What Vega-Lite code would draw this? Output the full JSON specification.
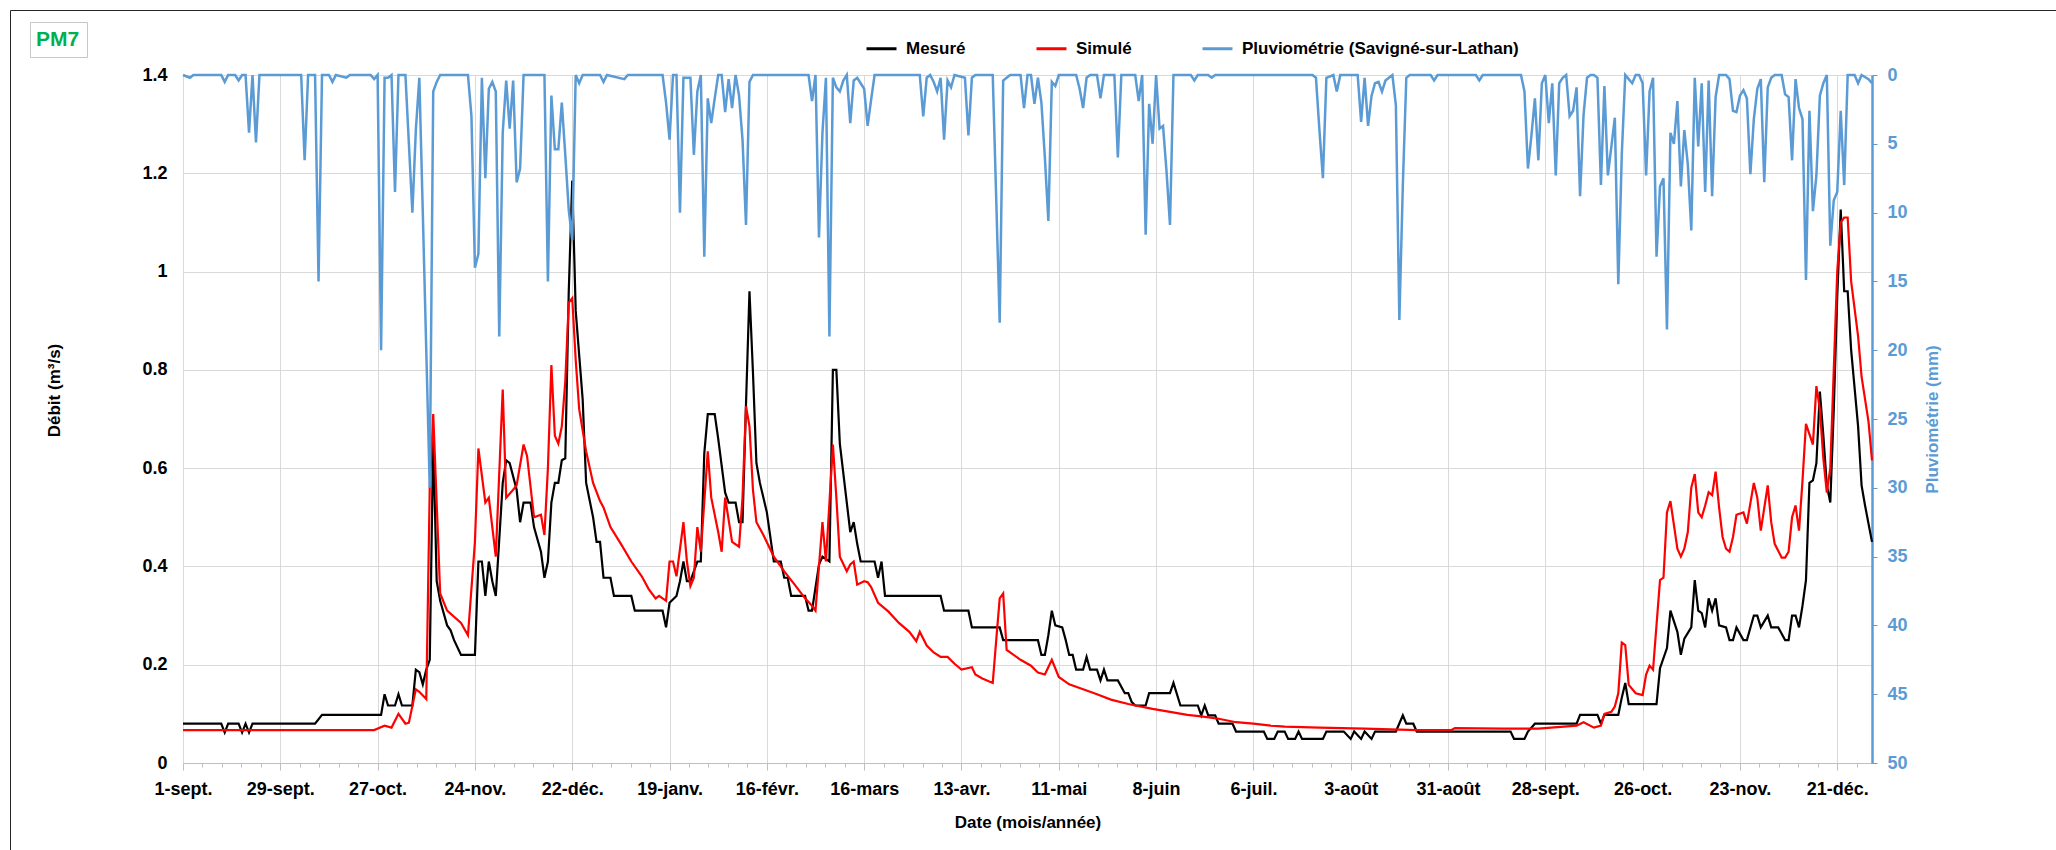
{
"$schema": "https://vega.github.io/schema/vega-lite/v6.json",
"width": 1689, "height": 688,
"autosize": {"type": "none"},
"padding": {"left": 183, "top": 75, "right": 184, "bottom": 87},
"background": "white",
"config": {
  "view": {"stroke": null},
  "font": "Liberation Sans",
  "axis": {"labelFont": "Liberation Sans", "labelFontWeight": "bold", "labelFontSize": 18, "labelColor": "#000000",
           "titleFont": "Liberation Sans", "titleFontWeight": "bold", "titleFontSize": 17, "titleColor": "#000000",
           "gridColor": "#D9D9D9", "gridWidth": 1}
},
"datasets": {
"mesure": [{"d":"2014-09-01","q":0.08},{"d":"2014-09-12","q":0.08},{"d":"2014-09-13","q":0.062},{"d":"2014-09-14","q":0.08},{"d":"2014-09-17","q":0.08},{"d":"2014-09-18","q":0.062},{"d":"2014-09-19","q":0.08},{"d":"2014-09-20","q":0.062},{"d":"2014-09-21","q":0.08},{"d":"2014-10-09","q":0.08},{"d":"2014-10-11","q":0.098},{"d":"2014-10-28","q":0.098},{"d":"2014-10-29","q":0.14},{"d":"2014-10-30","q":0.117},{"d":"2014-11-01","q":0.117},{"d":"2014-11-02","q":0.14},{"d":"2014-11-03","q":0.117},{"d":"2014-11-06","q":0.117},{"d":"2014-11-07","q":0.19},{"d":"2014-11-08","q":0.185},{"d":"2014-11-09","q":0.16},{"d":"2014-11-10","q":0.19},{"d":"2014-11-11","q":0.21},{"d":"2014-11-12","q":0.66},{"d":"2014-11-13","q":0.37},{"d":"2014-11-14","q":0.33},{"d":"2014-11-16","q":0.28},{"d":"2014-11-17","q":0.27},{"d":"2014-11-18","q":0.25},{"d":"2014-11-20","q":0.22},{"d":"2014-11-24","q":0.22},{"d":"2014-11-25","q":0.41},{"d":"2014-11-26","q":0.41},{"d":"2014-11-27","q":0.34},{"d":"2014-11-28","q":0.41},{"d":"2014-11-29","q":0.37},{"d":"2014-11-30","q":0.34},{"d":"2014-12-02","q":0.57},{"d":"2014-12-03","q":0.616},{"d":"2014-12-04","q":0.61},{"d":"2014-12-06","q":0.556},{"d":"2014-12-07","q":0.49},{"d":"2014-12-08","q":0.53},{"d":"2014-12-10","q":0.53},{"d":"2014-12-11","q":0.48},{"d":"2014-12-13","q":0.43},{"d":"2014-12-14","q":0.377},{"d":"2014-12-15","q":0.41},{"d":"2014-12-16","q":0.53},{"d":"2014-12-17","q":0.57},{"d":"2014-12-18","q":0.57},{"d":"2014-12-19","q":0.616},{"d":"2014-12-20","q":0.62},{"d":"2014-12-21","q":0.96},{"d":"2014-12-22","q":1.185},{"d":"2014-12-23","q":0.92},{"d":"2014-12-25","q":0.74},{"d":"2014-12-26","q":0.57},{"d":"2014-12-28","q":0.5},{"d":"2014-12-29","q":0.45},{"d":"2014-12-30","q":0.45},{"d":"2014-12-31","q":0.377},{"d":"2015-01-02","q":0.377},{"d":"2015-01-03","q":0.34},{"d":"2015-01-08","q":0.34},{"d":"2015-01-09","q":0.31},{"d":"2015-01-17","q":0.31},{"d":"2015-01-18","q":0.276},{"d":"2015-01-19","q":0.326},{"d":"2015-01-21","q":0.34},{"d":"2015-01-22","q":0.37},{"d":"2015-01-23","q":0.41},{"d":"2015-01-24","q":0.37},{"d":"2015-01-25","q":0.37},{"d":"2015-01-27","q":0.41},{"d":"2015-01-28","q":0.41},{"d":"2015-01-29","q":0.63},{"d":"2015-01-30","q":0.71},{"d":"2015-02-01","q":0.71},{"d":"2015-02-02","q":0.66},{"d":"2015-02-04","q":0.55},{"d":"2015-02-05","q":0.53},{"d":"2015-02-07","q":0.53},{"d":"2015-02-08","q":0.49},{"d":"2015-02-09","q":0.49},{"d":"2015-02-10","q":0.73},{"d":"2015-02-11","q":0.96},{"d":"2015-02-12","q":0.795},{"d":"2015-02-13","q":0.61},{"d":"2015-02-14","q":0.57},{"d":"2015-02-16","q":0.51},{"d":"2015-02-18","q":0.41},{"d":"2015-02-20","q":0.41},{"d":"2015-02-21","q":0.377},{"d":"2015-02-22","q":0.377},{"d":"2015-02-23","q":0.34},{"d":"2015-02-27","q":0.34},{"d":"2015-02-28","q":0.31},{"d":"2015-03-01","q":0.31},{"d":"2015-03-03","q":0.404},{"d":"2015-03-04","q":0.42},{"d":"2015-03-06","q":0.41},{"d":"2015-03-07","q":0.8},{"d":"2015-03-08","q":0.8},{"d":"2015-03-09","q":0.65},{"d":"2015-03-11","q":0.53},{"d":"2015-03-12","q":0.47},{"d":"2015-03-13","q":0.49},{"d":"2015-03-14","q":0.446},{"d":"2015-03-15","q":0.41},{"d":"2015-03-19","q":0.41},{"d":"2015-03-20","q":0.377},{"d":"2015-03-21","q":0.41},{"d":"2015-03-22","q":0.34},{"d":"2015-04-07","q":0.34},{"d":"2015-04-08","q":0.31},{"d":"2015-04-15","q":0.31},{"d":"2015-04-16","q":0.276},{"d":"2015-04-24","q":0.276},{"d":"2015-04-25","q":0.25},{"d":"2015-05-05","q":0.25},{"d":"2015-05-06","q":0.22},{"d":"2015-05-07","q":0.22},{"d":"2015-05-08","q":0.26},{"d":"2015-05-09","q":0.31},{"d":"2015-05-10","q":0.28},{"d":"2015-05-12","q":0.276},{"d":"2015-05-13","q":0.25},{"d":"2015-05-14","q":0.22},{"d":"2015-05-15","q":0.22},{"d":"2015-05-16","q":0.19},{"d":"2015-05-18","q":0.19},{"d":"2015-05-19","q":0.216},{"d":"2015-05-20","q":0.19},{"d":"2015-05-22","q":0.19},{"d":"2015-05-23","q":0.168},{"d":"2015-05-24","q":0.19},{"d":"2015-05-25","q":0.168},{"d":"2015-05-28","q":0.168},{"d":"2015-05-30","q":0.142},{"d":"2015-05-31","q":0.142},{"d":"2015-06-01","q":0.124},{"d":"2015-06-02","q":0.117},{"d":"2015-06-05","q":0.117},{"d":"2015-06-06","q":0.142},{"d":"2015-06-12","q":0.142},{"d":"2015-06-13","q":0.163},{"d":"2015-06-15","q":0.117},{"d":"2015-06-20","q":0.117},{"d":"2015-06-21","q":0.097},{"d":"2015-06-22","q":0.117},{"d":"2015-06-23","q":0.097},{"d":"2015-06-25","q":0.097},{"d":"2015-06-26","q":0.08},{"d":"2015-06-30","q":0.08},{"d":"2015-07-01","q":0.064},{"d":"2015-07-09","q":0.064},{"d":"2015-07-10","q":0.049},{"d":"2015-07-12","q":0.049},{"d":"2015-07-13","q":0.064},{"d":"2015-07-15","q":0.064},{"d":"2015-07-16","q":0.049},{"d":"2015-07-18","q":0.049},{"d":"2015-07-19","q":0.064},{"d":"2015-07-20","q":0.049},{"d":"2015-07-26","q":0.049},{"d":"2015-07-27","q":0.064},{"d":"2015-08-01","q":0.064},{"d":"2015-08-03","q":0.049},{"d":"2015-08-04","q":0.064},{"d":"2015-08-06","q":0.049},{"d":"2015-08-07","q":0.064},{"d":"2015-08-09","q":0.049},{"d":"2015-08-10","q":0.064},{"d":"2015-08-16","q":0.064},{"d":"2015-08-18","q":0.097},{"d":"2015-08-19","q":0.08},{"d":"2015-08-21","q":0.08},{"d":"2015-08-22","q":0.064},{"d":"2015-09-18","q":0.064},{"d":"2015-09-19","q":0.049},{"d":"2015-09-22","q":0.049},{"d":"2015-09-23","q":0.064},{"d":"2015-09-25","q":0.08},{"d":"2015-10-07","q":0.08},{"d":"2015-10-08","q":0.098},{"d":"2015-10-13","q":0.098},{"d":"2015-10-14","q":0.08},{"d":"2015-10-15","q":0.098},{"d":"2015-10-19","q":0.098},{"d":"2015-10-20","q":0.133},{"d":"2015-10-21","q":0.163},{"d":"2015-10-22","q":0.12},{"d":"2015-10-30","q":0.12},{"d":"2015-10-31","q":0.193},{"d":"2015-11-02","q":0.234},{"d":"2015-11-03","q":0.31},{"d":"2015-11-05","q":0.267},{"d":"2015-11-06","q":0.22},{"d":"2015-11-07","q":0.253},{"d":"2015-11-09","q":0.276},{"d":"2015-11-10","q":0.372},{"d":"2015-11-11","q":0.31},{"d":"2015-11-12","q":0.305},{"d":"2015-11-13","q":0.276},{"d":"2015-11-14","q":0.335},{"d":"2015-11-15","q":0.31},{"d":"2015-11-16","q":0.335},{"d":"2015-11-17","q":0.28},{"d":"2015-11-19","q":0.276},{"d":"2015-11-20","q":0.25},{"d":"2015-11-21","q":0.25},{"d":"2015-11-22","q":0.276},{"d":"2015-11-24","q":0.25},{"d":"2015-11-25","q":0.25},{"d":"2015-11-27","q":0.3},{"d":"2015-11-28","q":0.3},{"d":"2015-11-29","q":0.276},{"d":"2015-12-01","q":0.3},{"d":"2015-12-02","q":0.276},{"d":"2015-12-04","q":0.276},{"d":"2015-12-06","q":0.25},{"d":"2015-12-07","q":0.25},{"d":"2015-12-08","q":0.3},{"d":"2015-12-09","q":0.3},{"d":"2015-12-10","q":0.276},{"d":"2015-12-11","q":0.32},{"d":"2015-12-12","q":0.372},{"d":"2015-12-13","q":0.57},{"d":"2015-12-14","q":0.575},{"d":"2015-12-15","q":0.61},{"d":"2015-12-16","q":0.756},{"d":"2015-12-17","q":0.666},{"d":"2015-12-18","q":0.565},{"d":"2015-12-19","q":0.53},{"d":"2015-12-20","q":0.72},{"d":"2015-12-21","q":0.95},{"d":"2015-12-22","q":1.126},{"d":"2015-12-23","q":0.96},{"d":"2015-12-24","q":0.96},{"d":"2015-12-25","q":0.84},{"d":"2015-12-27","q":0.685},{"d":"2015-12-28","q":0.565},{"d":"2015-12-29","q":0.524},{"d":"2015-12-30","q":0.487},{"d":"2015-12-31","q":0.45}],
"simule": [{"d":"2014-09-01","q":0.067},{"d":"2014-10-26","q":0.067},{"d":"2014-10-29","q":0.076},{"d":"2014-10-31","q":0.072},{"d":"2014-11-02","q":0.1},{"d":"2014-11-04","q":0.08},{"d":"2014-11-05","q":0.082},{"d":"2014-11-07","q":0.15},{"d":"2014-11-08","q":0.145},{"d":"2014-11-10","q":0.13},{"d":"2014-11-11","q":0.56},{"d":"2014-11-12","q":0.71},{"d":"2014-11-14","q":0.345},{"d":"2014-11-16","q":0.31},{"d":"2014-11-20","q":0.285},{"d":"2014-11-22","q":0.26},{"d":"2014-11-24","q":0.45},{"d":"2014-11-25","q":0.64},{"d":"2014-11-27","q":0.53},{"d":"2014-11-28","q":0.54},{"d":"2014-11-30","q":0.42},{"d":"2014-12-02","q":0.76},{"d":"2014-12-03","q":0.54},{"d":"2014-12-05","q":0.556},{"d":"2014-12-06","q":0.565},{"d":"2014-12-08","q":0.648},{"d":"2014-12-09","q":0.625},{"d":"2014-12-11","q":0.5},{"d":"2014-12-13","q":0.505},{"d":"2014-12-14","q":0.464},{"d":"2014-12-15","q":0.6},{"d":"2014-12-16","q":0.81},{"d":"2014-12-17","q":0.666},{"d":"2014-12-18","q":0.65},{"d":"2014-12-19","q":0.685},{"d":"2014-12-20","q":0.776},{"d":"2014-12-21","q":0.937},{"d":"2014-12-22","q":0.946},{"d":"2014-12-23","q":0.82},{"d":"2014-12-24","q":0.72},{"d":"2014-12-26","q":0.634},{"d":"2014-12-28","q":0.57},{"d":"2014-12-30","q":0.533},{"d":"2014-12-31","q":0.52},{"d":"2015-01-02","q":0.48},{"d":"2015-01-05","q":0.446},{"d":"2015-01-08","q":0.41},{"d":"2015-01-11","q":0.38},{"d":"2015-01-13","q":0.354},{"d":"2015-01-15","q":0.335},{"d":"2015-01-16","q":0.34},{"d":"2015-01-18","q":0.33},{"d":"2015-01-19","q":0.41},{"d":"2015-01-20","q":0.41},{"d":"2015-01-21","q":0.38},{"d":"2015-01-23","q":0.49},{"d":"2015-01-24","q":0.41},{"d":"2015-01-25","q":0.36},{"d":"2015-01-26","q":0.377},{"d":"2015-01-27","q":0.48},{"d":"2015-01-28","q":0.43},{"d":"2015-01-30","q":0.634},{"d":"2015-01-31","q":0.54},{"d":"2015-02-02","q":0.47},{"d":"2015-02-03","q":0.43},{"d":"2015-02-04","q":0.54},{"d":"2015-02-06","q":0.45},{"d":"2015-02-08","q":0.44},{"d":"2015-02-09","q":0.54},{"d":"2015-02-10","q":0.726},{"d":"2015-02-11","q":0.685},{"d":"2015-02-12","q":0.556},{"d":"2015-02-13","q":0.49},{"d":"2015-02-15","q":0.464},{"d":"2015-02-18","q":0.42},{"d":"2015-02-21","q":0.39},{"d":"2015-02-24","q":0.363},{"d":"2015-02-27","q":0.335},{"d":"2015-03-01","q":0.32},{"d":"2015-03-02","q":0.31},{"d":"2015-03-03","q":0.4},{"d":"2015-03-04","q":0.49},{"d":"2015-03-05","q":0.41},{"d":"2015-03-07","q":0.648},{"d":"2015-03-08","q":0.54},{"d":"2015-03-09","q":0.42},{"d":"2015-03-11","q":0.39},{"d":"2015-03-12","q":0.404},{"d":"2015-03-13","q":0.41},{"d":"2015-03-14","q":0.363},{"d":"2015-03-16","q":0.37},{"d":"2015-03-17","q":0.368},{"d":"2015-03-18","q":0.358},{"d":"2015-03-20","q":0.326},{"d":"2015-03-23","q":0.308},{"d":"2015-03-26","q":0.285},{"d":"2015-03-29","q":0.267},{"d":"2015-03-31","q":0.248},{"d":"2015-04-01","q":0.267},{"d":"2015-04-03","q":0.239},{"d":"2015-04-05","q":0.225},{"d":"2015-04-07","q":0.216},{"d":"2015-04-09","q":0.216},{"d":"2015-04-11","q":0.202},{"d":"2015-04-13","q":0.19},{"d":"2015-04-16","q":0.195},{"d":"2015-04-17","q":0.18},{"d":"2015-04-19","q":0.172},{"d":"2015-04-22","q":0.163},{"d":"2015-04-23","q":0.25},{"d":"2015-04-24","q":0.335},{"d":"2015-04-25","q":0.345},{"d":"2015-04-26","q":0.23},{"d":"2015-04-30","q":0.21},{"d":"2015-05-03","q":0.198},{"d":"2015-05-05","q":0.184},{"d":"2015-05-07","q":0.18},{"d":"2015-05-09","q":0.21},{"d":"2015-05-11","q":0.175},{"d":"2015-05-14","q":0.16},{"d":"2015-05-18","q":0.15},{"d":"2015-05-22","q":0.14},{"d":"2015-05-26","q":0.129},{"d":"2015-05-31","q":0.12},{"d":"2015-06-02","q":0.117},{"d":"2015-06-07","q":0.11},{"d":"2015-06-12","q":0.104},{"d":"2015-06-17","q":0.098},{"d":"2015-06-21","q":0.095},{"d":"2015-06-26","q":0.09},{"d":"2015-07-01","q":0.083},{"d":"2015-07-06","q":0.08},{"d":"2015-07-11","q":0.076},{"d":"2015-07-15","q":0.074},{"d":"2015-07-25","q":0.072},{"d":"2015-08-07","q":0.07},{"d":"2015-08-22","q":0.067},{"d":"2015-09-01","q":0.067},{"d":"2015-09-02","q":0.071},{"d":"2015-09-16","q":0.07},{"d":"2015-09-26","q":0.07},{"d":"2015-10-07","q":0.076},{"d":"2015-10-09","q":0.083},{"d":"2015-10-12","q":0.072},{"d":"2015-10-14","q":0.076},{"d":"2015-10-15","q":0.1},{"d":"2015-10-17","q":0.104},{"d":"2015-10-18","q":0.115},{"d":"2015-10-19","q":0.142},{"d":"2015-10-20","q":0.245},{"d":"2015-10-21","q":0.24},{"d":"2015-10-22","q":0.159},{"d":"2015-10-24","q":0.142},{"d":"2015-10-26","q":0.138},{"d":"2015-10-27","q":0.18},{"d":"2015-10-28","q":0.198},{"d":"2015-10-29","q":0.19},{"d":"2015-10-31","q":0.372},{"d":"2015-11-01","q":0.377},{"d":"2015-11-02","q":0.51},{"d":"2015-11-03","q":0.533},{"d":"2015-11-05","q":0.436},{"d":"2015-11-06","q":0.42},{"d":"2015-11-07","q":0.436},{"d":"2015-11-08","q":0.47},{"d":"2015-11-09","q":0.56},{"d":"2015-11-10","q":0.588},{"d":"2015-11-11","q":0.51},{"d":"2015-11-12","q":0.5},{"d":"2015-11-13","q":0.524},{"d":"2015-11-14","q":0.551},{"d":"2015-11-15","q":0.545},{"d":"2015-11-16","q":0.593},{"d":"2015-11-17","q":0.52},{"d":"2015-11-18","q":0.46},{"d":"2015-11-19","q":0.436},{"d":"2015-11-20","q":0.43},{"d":"2015-11-21","q":0.46},{"d":"2015-11-22","q":0.505},{"d":"2015-11-24","q":0.51},{"d":"2015-11-25","q":0.487},{"d":"2015-11-27","q":0.57},{"d":"2015-11-28","q":0.54},{"d":"2015-11-29","q":0.473},{"d":"2015-12-01","q":0.565},{"d":"2015-12-02","q":0.49},{"d":"2015-12-03","q":0.446},{"d":"2015-12-05","q":0.418},{"d":"2015-12-06","q":0.418},{"d":"2015-12-07","q":0.43},{"d":"2015-12-08","q":0.5},{"d":"2015-12-09","q":0.524},{"d":"2015-12-10","q":0.473},{"d":"2015-12-11","q":0.574},{"d":"2015-12-12","q":0.69},{"d":"2015-12-14","q":0.648},{"d":"2015-12-15","q":0.767},{"d":"2015-12-16","q":0.72},{"d":"2015-12-17","q":0.62},{"d":"2015-12-18","q":0.55},{"d":"2015-12-19","q":0.6},{"d":"2015-12-20","q":0.8},{"d":"2015-12-21","q":1.0},{"d":"2015-12-22","q":1.1},{"d":"2015-12-23","q":1.11},{"d":"2015-12-24","q":1.11},{"d":"2015-12-25","q":0.98},{"d":"2015-12-27","q":0.868},{"d":"2015-12-28","q":0.786},{"d":"2015-12-30","q":0.694},{"d":"2015-12-31","q":0.616}],
"pluie": [{"d":"2014-09-01","p":0},{"d":"2014-09-03","p":0.2},{"d":"2014-09-04","p":0},{"d":"2014-09-12","p":0},{"d":"2014-09-13","p":0.5},{"d":"2014-09-14","p":0},{"d":"2014-09-16","p":0},{"d":"2014-09-17","p":0.4},{"d":"2014-09-18","p":0},{"d":"2014-09-19","p":0},{"d":"2014-09-20","p":4.2},{"d":"2014-09-21","p":0},{"d":"2014-09-22","p":4.9},{"d":"2014-09-23","p":0},{"d":"2014-10-05","p":0},{"d":"2014-10-06","p":6.2},{"d":"2014-10-07","p":0},{"d":"2014-10-09","p":0},{"d":"2014-10-10","p":15},{"d":"2014-10-11","p":0},{"d":"2014-10-13","p":0},{"d":"2014-10-14","p":0.5},{"d":"2014-10-15","p":0},{"d":"2014-10-18","p":0.2},{"d":"2014-10-19","p":0},{"d":"2014-10-25","p":0},{"d":"2014-10-26","p":0.3},{"d":"2014-10-27","p":0},{"d":"2014-10-28","p":20},{"d":"2014-10-29","p":0.2},{"d":"2014-10-30","p":0.2},{"d":"2014-10-31","p":0},{"d":"2014-11-01","p":8.5},{"d":"2014-11-02","p":0},{"d":"2014-11-04","p":0},{"d":"2014-11-06","p":10},{"d":"2014-11-07","p":4},{"d":"2014-11-08","p":0.2},{"d":"2014-11-09","p":10},{"d":"2014-11-10","p":20},{"d":"2014-11-11","p":30},{"d":"2014-11-12","p":1.2},{"d":"2014-11-13","p":0.5},{"d":"2014-11-14","p":0},{"d":"2014-11-22","p":0},{"d":"2014-11-23","p":3},{"d":"2014-11-24","p":14},{"d":"2014-11-25","p":13},{"d":"2014-11-26","p":0.2},{"d":"2014-11-27","p":7.5},{"d":"2014-11-28","p":1},{"d":"2014-11-29","p":0.5},{"d":"2014-11-30","p":1.2},{"d":"2014-12-01","p":19},{"d":"2014-12-02","p":4.2},{"d":"2014-12-03","p":0.4},{"d":"2014-12-04","p":3.9},{"d":"2014-12-05","p":0.4},{"d":"2014-12-06","p":7.8},{"d":"2014-12-07","p":6.8},{"d":"2014-12-08","p":0},{"d":"2014-12-14","p":0},{"d":"2014-12-15","p":15},{"d":"2014-12-16","p":1.5},{"d":"2014-12-17","p":5.4},{"d":"2014-12-18","p":5.4},{"d":"2014-12-19","p":2},{"d":"2014-12-20","p":5.8},{"d":"2014-12-21","p":9.8},{"d":"2014-12-22","p":12},{"d":"2014-12-23","p":0},{"d":"2014-12-24","p":0.6},{"d":"2014-12-25","p":0},{"d":"2014-12-30","p":0},{"d":"2014-12-31","p":0.5},{"d":"2015-01-01","p":0},{"d":"2015-01-06","p":0.3},{"d":"2015-01-07","p":0},{"d":"2015-01-17","p":0},{"d":"2015-01-18","p":2},{"d":"2015-01-19","p":4.7},{"d":"2015-01-20","p":0},{"d":"2015-01-21","p":0},{"d":"2015-01-22","p":10},{"d":"2015-01-23","p":0.2},{"d":"2015-01-25","p":0.2},{"d":"2015-01-26","p":5.8},{"d":"2015-01-27","p":1.2},{"d":"2015-01-28","p":0},{"d":"2015-01-29","p":13.2},{"d":"2015-01-30","p":1.7},{"d":"2015-01-31","p":3.5},{"d":"2015-02-01","p":1.7},{"d":"2015-02-02","p":0},{"d":"2015-02-03","p":0},{"d":"2015-02-04","p":2.7},{"d":"2015-02-05","p":0.3},{"d":"2015-02-06","p":2.4},{"d":"2015-02-07","p":0},{"d":"2015-02-08","p":1.5},{"d":"2015-02-09","p":4.7},{"d":"2015-02-10","p":10.9},{"d":"2015-02-11","p":0.5},{"d":"2015-02-12","p":0},{"d":"2015-02-28","p":0},{"d":"2015-03-01","p":1.9},{"d":"2015-03-02","p":0},{"d":"2015-03-03","p":11.8},{"d":"2015-03-04","p":4.2},{"d":"2015-03-05","p":0.2},{"d":"2015-03-06","p":19},{"d":"2015-03-07","p":0.2},{"d":"2015-03-08","p":0.9},{"d":"2015-03-09","p":1.2},{"d":"2015-03-10","p":0.4},{"d":"2015-03-11","p":0},{"d":"2015-03-12","p":3.5},{"d":"2015-03-13","p":0.4},{"d":"2015-03-14","p":0.2},{"d":"2015-03-16","p":1},{"d":"2015-03-17","p":3.7},{"d":"2015-03-18","p":1.8},{"d":"2015-03-19","p":0},{"d":"2015-04-01","p":0},{"d":"2015-04-02","p":3},{"d":"2015-04-03","p":0.2},{"d":"2015-04-04","p":0},{"d":"2015-04-05","p":0.5},{"d":"2015-04-06","p":1.2},{"d":"2015-04-07","p":0.2},{"d":"2015-04-08","p":4.7},{"d":"2015-04-09","p":0.4},{"d":"2015-04-10","p":0.9},{"d":"2015-04-11","p":0},{"d":"2015-04-14","p":0.2},{"d":"2015-04-15","p":4.4},{"d":"2015-04-16","p":0.2},{"d":"2015-04-17","p":0},{"d":"2015-04-22","p":0},{"d":"2015-04-23","p":9},{"d":"2015-04-24","p":18},{"d":"2015-04-25","p":0.4},{"d":"2015-04-26","p":0.2},{"d":"2015-04-27","p":0},{"d":"2015-04-30","p":0},{"d":"2015-05-01","p":2.4},{"d":"2015-05-02","p":0},{"d":"2015-05-03","p":0},{"d":"2015-05-04","p":2.1},{"d":"2015-05-05","p":0.2},{"d":"2015-05-06","p":2},{"d":"2015-05-07","p":6},{"d":"2015-05-08","p":10.6},{"d":"2015-05-09","p":0.5},{"d":"2015-05-10","p":0.8},{"d":"2015-05-11","p":0},{"d":"2015-05-16","p":0},{"d":"2015-05-17","p":1},{"d":"2015-05-18","p":2.4},{"d":"2015-05-19","p":0.2},{"d":"2015-05-20","p":0},{"d":"2015-05-22","p":0},{"d":"2015-05-23","p":1.7},{"d":"2015-05-24","p":0},{"d":"2015-05-27","p":0},{"d":"2015-05-28","p":6},{"d":"2015-05-29","p":0},{"d":"2015-06-02","p":0},{"d":"2015-06-03","p":1.9},{"d":"2015-06-04","p":0},{"d":"2015-06-05","p":11.6},{"d":"2015-06-06","p":2.1},{"d":"2015-06-07","p":5},{"d":"2015-06-08","p":0},{"d":"2015-06-09","p":3.9},{"d":"2015-06-10","p":3.7},{"d":"2015-06-11","p":7},{"d":"2015-06-12","p":10.9},{"d":"2015-06-13","p":0},{"d":"2015-06-18","p":0},{"d":"2015-06-19","p":0.4},{"d":"2015-06-20","p":0},{"d":"2015-06-23","p":0},{"d":"2015-06-24","p":0.2},{"d":"2015-06-25","p":0},{"d":"2015-07-23","p":0},{"d":"2015-07-24","p":0.2},{"d":"2015-07-25","p":4},{"d":"2015-07-26","p":7.5},{"d":"2015-07-27","p":0.2},{"d":"2015-07-29","p":0},{"d":"2015-07-30","p":1.2},{"d":"2015-07-31","p":0},{"d":"2015-08-05","p":0},{"d":"2015-08-06","p":3.4},{"d":"2015-08-07","p":0.2},{"d":"2015-08-08","p":3.7},{"d":"2015-08-09","p":1.5},{"d":"2015-08-10","p":0.6},{"d":"2015-08-11","p":0.5},{"d":"2015-08-12","p":1.2},{"d":"2015-08-13","p":0.4},{"d":"2015-08-14","p":0.2},{"d":"2015-08-15","p":0},{"d":"2015-08-16","p":2.2},{"d":"2015-08-17","p":17.8},{"d":"2015-08-18","p":8},{"d":"2015-08-19","p":0.2},{"d":"2015-08-20","p":0},{"d":"2015-08-26","p":0},{"d":"2015-08-27","p":0.4},{"d":"2015-08-28","p":0},{"d":"2015-09-08","p":0},{"d":"2015-09-09","p":0.4},{"d":"2015-09-10","p":0},{"d":"2015-09-21","p":0},{"d":"2015-09-22","p":1.2},{"d":"2015-09-23","p":6.8},{"d":"2015-09-24","p":4.4},{"d":"2015-09-25","p":1.7},{"d":"2015-09-26","p":6.2},{"d":"2015-09-27","p":0.6},{"d":"2015-09-28","p":0},{"d":"2015-09-29","p":3.5},{"d":"2015-09-30","p":0.6},{"d":"2015-10-01","p":7.3},{"d":"2015-10-02","p":0.6},{"d":"2015-10-03","p":0.2},{"d":"2015-10-04","p":0},{"d":"2015-10-05","p":3},{"d":"2015-10-06","p":2.6},{"d":"2015-10-07","p":0.9},{"d":"2015-10-08","p":8.8},{"d":"2015-10-09","p":2.9},{"d":"2015-10-10","p":0.2},{"d":"2015-10-11","p":0},{"d":"2015-10-12","p":0},{"d":"2015-10-13","p":0.2},{"d":"2015-10-14","p":8},{"d":"2015-10-15","p":0.8},{"d":"2015-10-16","p":7.3},{"d":"2015-10-17","p":5.2},{"d":"2015-10-18","p":3.1},{"d":"2015-10-19","p":15.2},{"d":"2015-10-20","p":5.8},{"d":"2015-10-21","p":0},{"d":"2015-10-22","p":0.3},{"d":"2015-10-23","p":0.6},{"d":"2015-10-24","p":0},{"d":"2015-10-25","p":0},{"d":"2015-10-26","p":0.6},{"d":"2015-10-27","p":7.3},{"d":"2015-10-28","p":1.2},{"d":"2015-10-29","p":0.2},{"d":"2015-10-30","p":13.2},{"d":"2015-10-31","p":8.1},{"d":"2015-11-01","p":7.5},{"d":"2015-11-02","p":18.5},{"d":"2015-11-03","p":4.2},{"d":"2015-11-04","p":5},{"d":"2015-11-05","p":1.9},{"d":"2015-11-06","p":8.1},{"d":"2015-11-07","p":4},{"d":"2015-11-08","p":6.5},{"d":"2015-11-09","p":11.3},{"d":"2015-11-10","p":0.2},{"d":"2015-11-11","p":5.2},{"d":"2015-11-12","p":0.6},{"d":"2015-11-13","p":8.5},{"d":"2015-11-14","p":0.4},{"d":"2015-11-15","p":8.8},{"d":"2015-11-16","p":1.6},{"d":"2015-11-17","p":0},{"d":"2015-11-19","p":0},{"d":"2015-11-20","p":0.3},{"d":"2015-11-21","p":2.6},{"d":"2015-11-22","p":2.7},{"d":"2015-11-23","p":1.5},{"d":"2015-11-24","p":1.1},{"d":"2015-11-25","p":1.7},{"d":"2015-11-26","p":7.2},{"d":"2015-11-27","p":3.2},{"d":"2015-11-28","p":1},{"d":"2015-11-29","p":0.3},{"d":"2015-11-30","p":7.8},{"d":"2015-12-01","p":0.9},{"d":"2015-12-02","p":0.2},{"d":"2015-12-03","p":0},{"d":"2015-12-05","p":0},{"d":"2015-12-06","p":1.4},{"d":"2015-12-07","p":1.6},{"d":"2015-12-08","p":6.2},{"d":"2015-12-09","p":0.3},{"d":"2015-12-10","p":2.4},{"d":"2015-12-11","p":3.2},{"d":"2015-12-12","p":14.9},{"d":"2015-12-13","p":2.6},{"d":"2015-12-14","p":9.9},{"d":"2015-12-15","p":7.3},{"d":"2015-12-16","p":1.5},{"d":"2015-12-17","p":0.6},{"d":"2015-12-18","p":0},{"d":"2015-12-19","p":12.4},{"d":"2015-12-20","p":9.1},{"d":"2015-12-21","p":8.5},{"d":"2015-12-22","p":2.6},{"d":"2015-12-23","p":8},{"d":"2015-12-24","p":0},{"d":"2015-12-26","p":0},{"d":"2015-12-27","p":0.6},{"d":"2015-12-28","p":0},{"d":"2015-12-30","p":0.3},{"d":"2015-12-31","p":0.6}]
},
"layer": [
  {"layer": [
    {"data": {"name": "mesure"},
     "mark": {"type": "line", "strokeWidth": 2.2},
     "encoding": {
       "x": {"field": "d", "type": "temporal",
             "scale": {"type": "utc", "domain": [{"year": 2014, "month": 9, "date": 1, "utc": true}, {"year": 2015, "month": 12, "date": 31, "utc": true}]},
             "axis": {"title": "Date (mois/année)", "grid": true, "tickCount": 500,
                      "values": [{"year":2014,"month":9,"date":1,"utc":true},{"year":2014,"month":9,"date":29,"utc":true},{"year":2014,"month":10,"date":27,"utc":true},{"year":2014,"month":11,"date":24,"utc":true},{"year":2014,"month":12,"date":22,"utc":true},{"year":2015,"month":1,"date":19,"utc":true},{"year":2015,"month":2,"date":16,"utc":true},{"year":2015,"month":3,"date":16,"utc":true},{"year":2015,"month":4,"date":13,"utc":true},{"year":2015,"month":5,"date":11,"utc":true},{"year":2015,"month":6,"date":8,"utc":true},{"year":2015,"month":7,"date":6,"utc":true},{"year":2015,"month":8,"date":3,"utc":true},{"year":2015,"month":8,"date":31,"utc":true},{"year":2015,"month":9,"date":28,"utc":true},{"year":2015,"month":10,"date":26,"utc":true},{"year":2015,"month":11,"date":23,"utc":true},{"year":2015,"month":12,"date":21,"utc":true},
                        {"year":2014,"month":9,"date":6,"hours":14,"minutes":24,"utc":true},{"year":2014,"month":9,"date":12,"hours":4,"minutes":48,"utc":true},{"year":2014,"month":9,"date":17,"hours":19,"minutes":12,"utc":true},{"year":2014,"month":9,"date":23,"hours":9,"minutes":36,"utc":true},
                        {"year":2014,"month":10,"date":4,"hours":14,"minutes":24,"utc":true},{"year":2014,"month":10,"date":10,"hours":4,"minutes":48,"utc":true},{"year":2014,"month":10,"date":15,"hours":19,"minutes":12,"utc":true},{"year":2014,"month":10,"date":21,"hours":9,"minutes":36,"utc":true},
                        {"year":2014,"month":11,"date":1,"hours":14,"minutes":24,"utc":true},{"year":2014,"month":11,"date":7,"hours":4,"minutes":48,"utc":true},{"year":2014,"month":11,"date":12,"hours":19,"minutes":12,"utc":true},{"year":2014,"month":11,"date":18,"hours":9,"minutes":36,"utc":true},
                        {"year":2014,"month":11,"date":29,"hours":14,"minutes":24,"utc":true},{"year":2014,"month":12,"date":5,"hours":4,"minutes":48,"utc":true},{"year":2014,"month":12,"date":10,"hours":19,"minutes":12,"utc":true},{"year":2014,"month":12,"date":16,"hours":9,"minutes":36,"utc":true},
                        {"year":2014,"month":12,"date":27,"hours":14,"minutes":24,"utc":true},{"year":2015,"month":1,"date":2,"hours":4,"minutes":48,"utc":true},{"year":2015,"month":1,"date":7,"hours":19,"minutes":12,"utc":true},{"year":2015,"month":1,"date":13,"hours":9,"minutes":36,"utc":true},
                        {"year":2015,"month":1,"date":24,"hours":14,"minutes":24,"utc":true},{"year":2015,"month":1,"date":30,"hours":4,"minutes":48,"utc":true},{"year":2015,"month":2,"date":4,"hours":19,"minutes":12,"utc":true},{"year":2015,"month":2,"date":10,"hours":9,"minutes":36,"utc":true},
                        {"year":2015,"month":2,"date":21,"hours":14,"minutes":24,"utc":true},{"year":2015,"month":2,"date":27,"hours":4,"minutes":48,"utc":true},{"year":2015,"month":3,"date":4,"hours":19,"minutes":12,"utc":true},{"year":2015,"month":3,"date":10,"hours":9,"minutes":36,"utc":true},
                        {"year":2015,"month":3,"date":21,"hours":14,"minutes":24,"utc":true},{"year":2015,"month":3,"date":27,"hours":4,"minutes":48,"utc":true},{"year":2015,"month":4,"date":1,"hours":19,"minutes":12,"utc":true},{"year":2015,"month":4,"date":7,"hours":9,"minutes":36,"utc":true},
                        {"year":2015,"month":4,"date":18,"hours":14,"minutes":24,"utc":true},{"year":2015,"month":4,"date":24,"hours":4,"minutes":48,"utc":true},{"year":2015,"month":4,"date":29,"hours":19,"minutes":12,"utc":true},{"year":2015,"month":5,"date":5,"hours":9,"minutes":36,"utc":true},
                        {"year":2015,"month":5,"date":16,"hours":14,"minutes":24,"utc":true},{"year":2015,"month":5,"date":22,"hours":4,"minutes":48,"utc":true},{"year":2015,"month":5,"date":27,"hours":19,"minutes":12,"utc":true},{"year":2015,"month":6,"date":2,"hours":9,"minutes":36,"utc":true},
                        {"year":2015,"month":6,"date":13,"hours":14,"minutes":24,"utc":true},{"year":2015,"month":6,"date":19,"hours":4,"minutes":48,"utc":true},{"year":2015,"month":6,"date":24,"hours":19,"minutes":12,"utc":true},{"year":2015,"month":6,"date":30,"hours":9,"minutes":36,"utc":true},
                        {"year":2015,"month":7,"date":11,"hours":14,"minutes":24,"utc":true},{"year":2015,"month":7,"date":17,"hours":4,"minutes":48,"utc":true},{"year":2015,"month":7,"date":22,"hours":19,"minutes":12,"utc":true},{"year":2015,"month":7,"date":28,"hours":9,"minutes":36,"utc":true},
                        {"year":2015,"month":8,"date":8,"hours":14,"minutes":24,"utc":true},{"year":2015,"month":8,"date":14,"hours":4,"minutes":48,"utc":true},{"year":2015,"month":8,"date":19,"hours":19,"minutes":12,"utc":true},{"year":2015,"month":8,"date":25,"hours":9,"minutes":36,"utc":true},
                        {"year":2015,"month":9,"date":5,"hours":14,"minutes":24,"utc":true},{"year":2015,"month":9,"date":11,"hours":4,"minutes":48,"utc":true},{"year":2015,"month":9,"date":16,"hours":19,"minutes":12,"utc":true},{"year":2015,"month":9,"date":22,"hours":9,"minutes":36,"utc":true},
                        {"year":2015,"month":10,"date":3,"hours":14,"minutes":24,"utc":true},{"year":2015,"month":10,"date":9,"hours":4,"minutes":48,"utc":true},{"year":2015,"month":10,"date":14,"hours":19,"minutes":12,"utc":true},{"year":2015,"month":10,"date":20,"hours":9,"minutes":36,"utc":true},
                        {"year":2015,"month":10,"date":31,"hours":14,"minutes":24,"utc":true},{"year":2015,"month":11,"date":6,"hours":4,"minutes":48,"utc":true},{"year":2015,"month":11,"date":11,"hours":19,"minutes":12,"utc":true},{"year":2015,"month":11,"date":17,"hours":9,"minutes":36,"utc":true},
                        {"year":2015,"month":11,"date":28,"hours":14,"minutes":24,"utc":true},{"year":2015,"month":12,"date":4,"hours":4,"minutes":48,"utc":true},{"year":2015,"month":12,"date":9,"hours":19,"minutes":12,"utc":true},{"year":2015,"month":12,"date":15,"hours":9,"minutes":36,"utc":true},
                        {"year":2015,"month":12,"date":26,"hours":14,"minutes":24,"utc":true}],
                      "labelExpr": "utchours(datum.value) > 0 ? '' : utcdate(datum.value) + '-' + ['janv.','févr.','mars','avr.','mai','juin','juil.','août','sept.','oct.','nov.','déc.'][utcmonth(datum.value)]",
                      "gridOpacity": {"condition": {"test": "utchours(datum.value) > 0", "value": 0}, "value": 1},
                      "tickSize": {"condition": {"test": "utchours(datum.value) > 0", "value": 4}, "value": 7},
                      "labelOverlap": false, "labelFlush": false, "labelBound": false,
                      "domainColor": "#BFBFBF", "tickColor": "#BFBFBF", "labelPadding": 10, "titlePadding": 16}},
       "y": {"field": "q", "type": "quantitative", "scale": {"domain": [0, 1.4]},
             "axis": {"title": "Débit (m³/s)", "values": [0, 0.2, 0.4, 0.6, 0.8, 1, 1.2, 1.4], "format": "~g",
                      "grid": true, "domain": false, "ticks": false, "labelPadding": 16, "titlePadding": 78, "titleY": 315}},
       "color": {"datum": "Mesuré", "type": "nominal",
                 "scale": {"domain": ["Mesuré", "Simulé", "Pluviométrie (Savigné-sur-Lathan)"], "range": ["#000000", "#FF0000", "#5B9BD5"]},
                 "legend": {"orient": "none", "legendX": 682, "legendY": -43, "direction": "horizontal", "title": null,
                            "symbolType": "stroke", "symbolSize": 900, "symbolStrokeWidth": 3, "labelLimit": 0,
                            "labelFont": "Liberation Sans", "labelFontSize": 17, "labelFontWeight": "bold", "labelColor": "#000000",
                            "columnPadding": 64, "labelOffset": 8, "padding": 0}}
     }},
    {"data": {"name": "simule"},
     "mark": {"type": "line", "strokeWidth": 2.2},
     "encoding": {
       "x": {"field": "d", "type": "temporal"},
       "y": {"field": "q", "type": "quantitative"},
       "color": {"datum": "Simulé", "type": "nominal"}
     }}
  ]},
  {"data": {"name": "pluie"},
   "mark": {"type": "line"},
   "encoding": {
     "x": {"field": "d", "type": "temporal"},
     "y": {"field": "p", "type": "quantitative", "scale": {"domain": [0, 50], "reverse": true},
           "axis": {"orient": "right", "title": "Pluviométrie (mm)", "values": [0, 5, 10, 15, 20, 25, 30, 35, 40, 45, 50],
                    "grid": false, "domainColor": "#5B9BD5", "domainWidth": 2.5, "tickColor": "#5B9BD5", "tickSize": 5,
                    "labelColor": "#5B9BD5", "titleColor": "#5B9BD5", "titleAngle": 270, "labelPadding": 10, "titlePadding": 34}},
     "color": {"datum": "Pluviométrie (Savigné-sur-Lathan)", "type": "nominal"},
     "strokeWidth": {"datum": "cadre", "type": "nominal", "scale": {"type": "ordinal", "range": [2.5]},
                 "legend": {"orient": "none", "legendX": -173, "legendY": -65, "title": null, "labelExpr": "''",
                            "symbolSize": 0, "symbolOpacity": 0, "symbolStrokeWidth": 0, "labelOffset": 0, "labelFontSize": 1,
                            "strokeColor": "#262626", "padding": 1022,
                            "encode": {"legend": {"update": {"strokeWidth": {"value": 3}}}}}},
     "opacity": {"datum": "PM7", "type": "nominal", "scale": {"type": "ordinal", "range": [1]},
                 "legend": {"orient": "none", "legendX": -153, "legendY": -53, "title": null,
                            "symbolSize": 0, "symbolOpacity": 0, "symbolStrokeWidth": 0, "labelOffset": -22,
                            "labelFont": "Liberation Sans", "labelFontSize": 21, "labelFontWeight": "bold", "labelColor": "#00B050",
                            "strokeColor": "#C8C8C8", "padding": 7}}
   }}
],
"resolve": {"scale": {"y": "independent"}}
}
